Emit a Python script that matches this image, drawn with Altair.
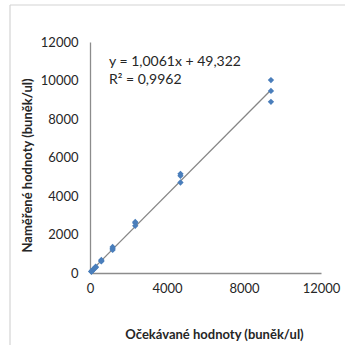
import altair as alt
import pandas as pd

# Expected vs. measured cell counts (cells/ul), triplicates per dilution level
expected = [9400, 9400, 9400,
            4700, 4700, 4700,
            2350, 2350, 2350,
            1175, 1175, 1175,
            588, 588, 588,
            294, 294, 294,
            147, 147, 147,
            73, 73, 73]
measured = [10020, 9460, 8890,
            5150, 5050, 4700,
            2650, 2600, 2450,
            1350, 1260, 1200,
            680, 630, 600,
            330, 300, 280,
            170, 150, 140,
            90, 80, 70]

# Linear trendline reported on the chart
slope = 1.0061
intercept = 49.322
r_squared = 0.9962

x_ticks = [0, 4000, 8000, 12000]
y_ticks = [0, 2000, 4000, 6000, 8000, 10000, 12000]
x_title = "Očekávané hodnoty (buněk/ul)"
y_title = "Naměřené hodnoty (buněk/ul)"

points = pd.DataFrame({"x": expected, "y": measured})
x_lo, x_hi = min(expected), max(expected)
trend = pd.DataFrame({"x": [x_lo, x_hi],
                      "y": [slope * x_lo + intercept, slope * x_hi + intercept]})


def comma(v, digits):
    return f"{v:.{digits}f}".replace(".", ",")


eq_text = f"y = {comma(slope, 4)}x + {comma(intercept, 3)}"
r2_text = f"R² = {comma(r_squared, 4)}"

FONT = "Lato"
TEXT = "#262626"
AXIS = "#8c8c8c"

common_axis = dict(format="d", grid=False, ticks=False, labelFlush=False,
                   labelFontSize=13, labelFont=FONT, labelColor=TEXT,
                   domainColor=AXIS, domainWidth=1.3, titleFont=FONT,
                   titleFontSize=13, titleFontWeight="bold", titleColor=TEXT,
                   titleBaseline="middle")

x_enc = alt.X("x:Q",
              scale=alt.Scale(domain=[0, 12000], nice=False),
              axis=alt.Axis(values=x_ticks, title=x_title, labelPadding=9,
                            titleX=124, titleY=61, **common_axis))
y_enc = alt.Y("y:Q",
              scale=alt.Scale(domain=[0, 12000], nice=False),
              axis=alt.Axis(values=y_ticks, title=y_title, labelPadding=12,
                            titleX=-63, titleY=123, **common_axis))

one = pd.DataFrame({"k": [0]})

frame_left = alt.Chart(one).mark_rule(
    color="#d4d4d4", strokeWidth=1.2, clip=False
).encode(x=alt.value(-80), y=alt.value(-37), y2=alt.value(310))

frame_top = alt.Chart(one).mark_rule(
    color="#d4d4d4", strokeWidth=1.2, clip=False
).encode(x=alt.value(-80), x2=alt.value(260), y=alt.value(-37))

line = alt.Chart(trend).mark_line(color="#868686", strokeWidth=1.3).encode(
    x=x_enc, y=y_enc)

dots = alt.Chart(points).mark_point(
    shape="diamond", filled=True, size=40, color="#4a7ebb", opacity=1
).encode(x=x_enc, y=y_enc)

text_style = dict(align="left", baseline="alphabetic", font=FONT, fontSize=14,
                  color=TEXT)
eq_mark = alt.Chart(one).mark_text(text=eq_text, **text_style).encode(
    x=alt.value(19), y=alt.value(24))
r2_mark = alt.Chart(one).mark_text(text=r2_text, **text_style).encode(
    x=alt.value(19), y=alt.value(42))

chart = alt.layer(frame_left, frame_top, line, dots, eq_mark, r2_mark).properties(
    width=231,
    height=231,
    padding={"left": 90, "top": 42, "right": 24, "bottom": 72},
    autosize=alt.AutoSizeParams(type="none"),
    background="white",
).configure_view(stroke=None)

chart.save("out.html", embed_options={"renderer": "svg", "actions": False})
